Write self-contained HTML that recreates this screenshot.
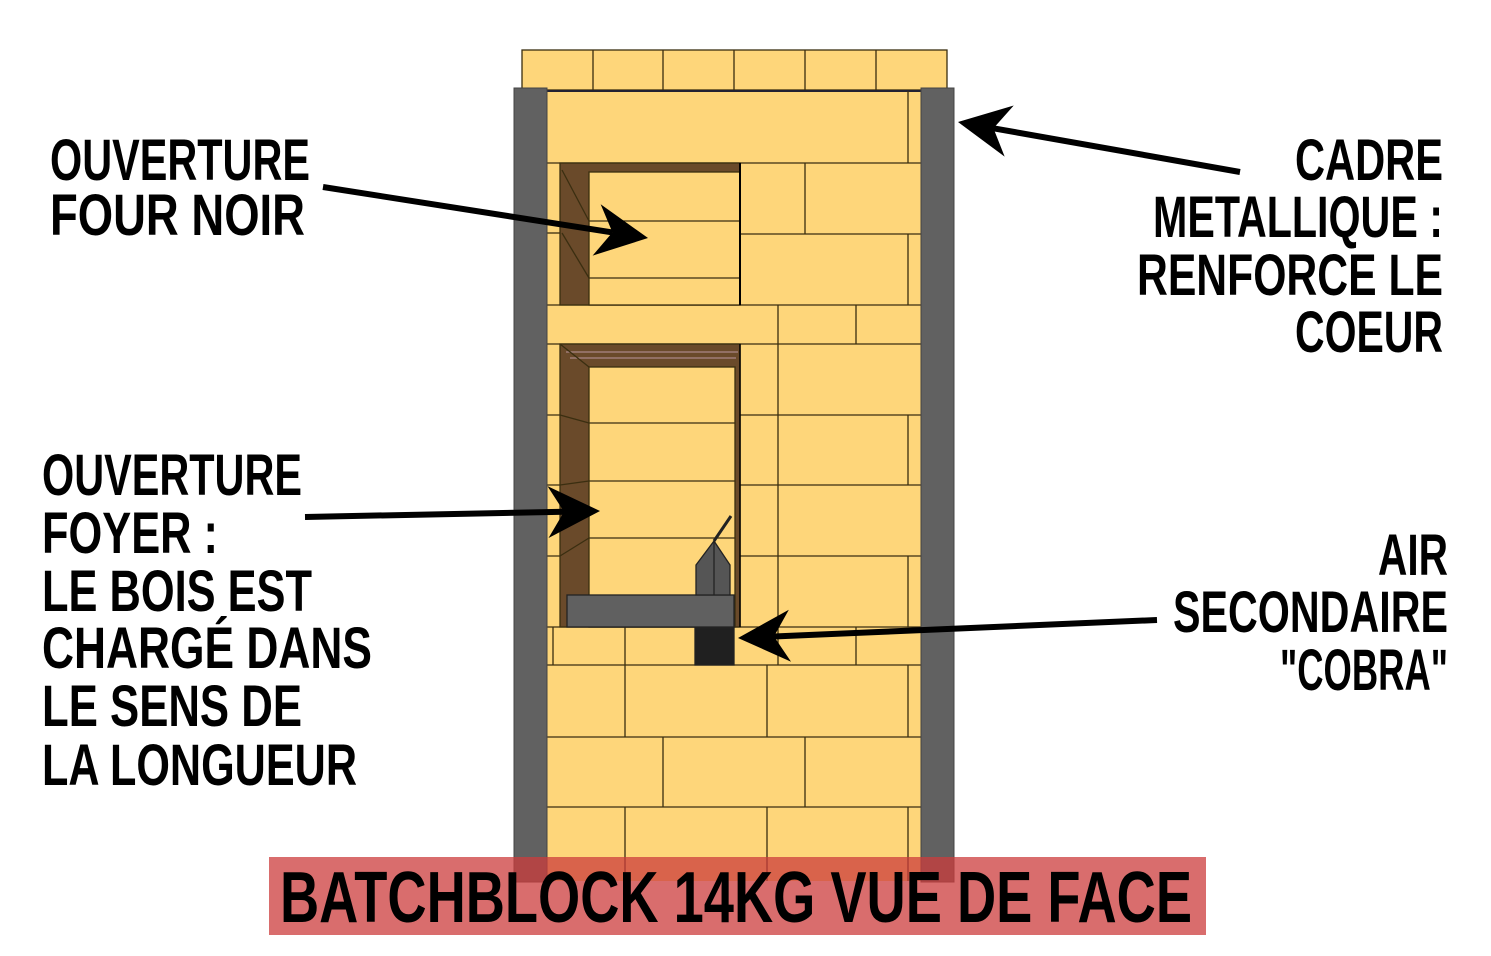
<!DOCTYPE html>
<html><head><meta charset="utf-8"><style>
html,body{margin:0;padding:0;background:#fff;}
svg{display:block}
text{font-family:"Liberation Sans","DejaVu Sans",sans-serif;font-weight:bold;fill:#000;}
</style></head><body>
<svg width="1491" height="956" viewBox="0 0 1491 956" xmlns="http://www.w3.org/2000/svg">
<g stroke="#3a2e10" stroke-width="1.3" fill="#fed67a">
  <g>
    <rect x="522" y="50" width="425" height="40"/>
    <line x1="593" y1="50" x2="593" y2="90"/><line x1="663" y1="50" x2="663" y2="90"/>
    <line x1="734" y1="50" x2="734" y2="90"/><line x1="805" y1="50" x2="805" y2="90"/>
    <line x1="876" y1="50" x2="876" y2="90"/>
  </g>
  <g>
    <rect x="547" y="91" width="374" height="790" stroke="none"/>
    <line x1="547" y1="91" x2="921" y2="91" stroke="#223" stroke-width="2"/>
    <line x1="547" y1="163" x2="921" y2="163"/>
    <line x1="908" y1="91" x2="908" y2="163"/>
    <line x1="740" y1="234" x2="921" y2="234"/>
    <line x1="805" y1="163" x2="805" y2="234"/>
    <line x1="908" y1="234" x2="908" y2="305"/>
    <line x1="547" y1="233" x2="560" y2="233"/>
    <line x1="547" y1="305" x2="921" y2="305"/>
    <line x1="547" y1="344" x2="921" y2="344"/>
    <line x1="778" y1="305" x2="778" y2="627"/>
    <line x1="856" y1="305" x2="856" y2="344"/>
    <line x1="547" y1="415" x2="921" y2="415"/>
    <line x1="547" y1="485" x2="921" y2="485"/>
    <line x1="547" y1="556" x2="921" y2="556"/>
    <line x1="908" y1="415" x2="908" y2="485"/>
    <line x1="908" y1="556" x2="908" y2="627"/>
    <line x1="547" y1="627" x2="921" y2="627"/>
    <line x1="553" y1="627" x2="553" y2="665"/>
    <line x1="625" y1="627" x2="625" y2="665"/>
    <line x1="778" y1="627" x2="778" y2="665"/>
    <line x1="856" y1="627" x2="856" y2="665"/>
    <line x1="547" y1="665" x2="921" y2="665"/>
    <line x1="625" y1="665" x2="625" y2="737"/>
    <line x1="767" y1="665" x2="767" y2="737"/>
    <line x1="908" y1="665" x2="908" y2="737"/>
    <line x1="547" y1="737" x2="921" y2="737"/>
    <line x1="663" y1="737" x2="663" y2="807"/>
    <line x1="805" y1="737" x2="805" y2="807"/>
    <line x1="547" y1="807" x2="921" y2="807"/>
    <line x1="625" y1="807" x2="625" y2="881"/>
    <line x1="767" y1="807" x2="767" y2="881"/>
    <line x1="908" y1="807" x2="908" y2="881"/>
  </g>
  <g>
    <rect x="560" y="163" width="180" height="142" fill="#6a4a2a"/>
    <rect x="589" y="172" width="151" height="133"/>
    <line x1="589" y1="221" x2="740" y2="221"/>
    <line x1="589" y1="278" x2="740" y2="278"/>
    <line x1="562" y1="170" x2="589" y2="221"/>
    <line x1="562" y1="233" x2="589" y2="278"/>
    <line x1="740" y1="163" x2="740" y2="305" stroke="#000" stroke-width="2"/>
  </g>
  <g>
    <rect x="560" y="344" width="180" height="283" fill="#6a4a2a"/>
    <line x1="566" y1="352" x2="738" y2="352" stroke="#a88"/>
    <line x1="570" y1="358" x2="736" y2="358" stroke="#a88"/>
    <rect x="589" y="367" width="146" height="260"/>
    <line x1="589" y1="423" x2="735" y2="423"/>
    <line x1="589" y1="481" x2="735" y2="481"/>
    <line x1="589" y1="538" x2="735" y2="538"/>
    <line x1="560" y1="344" x2="589" y2="367"/>
    <line x1="560" y1="415" x2="589" y2="423"/>
    <line x1="560" y1="485" x2="589" y2="481"/>
    <line x1="560" y1="556" x2="589" y2="538"/>
    <line x1="740" y1="344" x2="740" y2="627" stroke="#000" stroke-width="1.5"/>
  </g>
</g>
<g stroke="#222" stroke-width="1.3">
  <rect x="567" y="595" width="167" height="32" fill="#606060"/>
  <polygon points="696,565 714,541 730,565 730,595 696,595" fill="#555"/>
  <line x1="714" y1="541" x2="714" y2="595"/>
  <line x1="714" y1="541" x2="731" y2="516" stroke-width="3"/>
  <rect x="695" y="628" width="39" height="37" fill="#202020"/>
</g>
<g fill="#616161" stroke="#444" stroke-width="1">
  <rect x="514" y="88" width="33" height="794"/>
  <rect x="921" y="88" width="33" height="794"/>
</g>
<rect x="269" y="857" width="937" height="78" fill="rgba(204,60,60,0.75)"/>
<text x="280" y="922" font-size="72" textLength="912" lengthAdjust="spacingAndGlyphs">BATCHBLOCK 14KG VUE DE FACE</text>

<g font-size="58">
  <text x="50" y="180" textLength="260" lengthAdjust="spacingAndGlyphs">OUVERTURE</text>
  <text x="50" y="235" textLength="255" lengthAdjust="spacingAndGlyphs">FOUR NOIR</text>
</g>
<g font-size="58">
  <text x="42" y="495" textLength="260" lengthAdjust="spacingAndGlyphs">OUVERTURE</text>
  <text x="42" y="553" textLength="176" lengthAdjust="spacingAndGlyphs">FOYER :</text>
  <text x="42" y="611" textLength="270" lengthAdjust="spacingAndGlyphs">LE BOIS EST</text>
  <text x="42" y="668" textLength="330" lengthAdjust="spacingAndGlyphs">CHARGÉ DANS</text>
  <text x="42" y="726" textLength="260" lengthAdjust="spacingAndGlyphs">LE SENS DE</text>
  <text x="42" y="785" textLength="315" lengthAdjust="spacingAndGlyphs">LA LONGUEUR</text>
</g>
<g font-size="58">
  <text x="1295" y="180" textLength="148" lengthAdjust="spacingAndGlyphs">CADRE</text>
  <text x="1153" y="237" textLength="290" lengthAdjust="spacingAndGlyphs">METALLIQUE :</text>
  <text x="1137" y="295" textLength="306" lengthAdjust="spacingAndGlyphs">RENFORCE LE</text>
  <text x="1295" y="352" textLength="148" lengthAdjust="spacingAndGlyphs">COEUR</text>
</g>
<g font-size="58">
  <text x="1378" y="575" textLength="70" lengthAdjust="spacingAndGlyphs">AIR</text>
  <text x="1173" y="632" textLength="275" lengthAdjust="spacingAndGlyphs">SECONDAIRE</text>
  <text x="1280" y="690" textLength="168" lengthAdjust="spacingAndGlyphs">"COBRA"</text>
</g>
<g id="arrows"></g>
<script>
const arrows = [
  ['arrow-four-noir', 323,187, 648,238],
  ['arrow-foyer', 305,517, 600,511],
  ['arrow-cadre', 1240,172, 958,122],
  ['arrow-cobra', 1157,620, 738,638]
];
const g = document.getElementById('arrows');
const NS = 'http://www.w3.org/2000/svg';
arrows.forEach(a => {
  const [name,x1,y1,x2,y2] = a;
  const dx=x2-x1, dy=y2-y1, L=Math.hypot(dx,dy), ux=dx/L, uy=dy/L, px=-uy, py=ux;
  const grp = document.createElementNS(NS,'g');
  
  
  const hl=52, hw=26, notch=36;
  const line = document.createElementNS(NS,'line');
  line.setAttribute('x1',x1); line.setAttribute('y1',y1);
  line.setAttribute('x2',x2-ux*notch); line.setAttribute('y2',y2-uy*notch);
  line.setAttribute('stroke','#000'); line.setAttribute('stroke-width','6');
  grp.appendChild(line);
  const bx=x2-ux*hl, by=y2-uy*hl;
  const pts=[[x2,y2],[bx+px*hw,by+py*hw],[x2-ux*notch,y2-uy*notch],[bx-px*hw,by-py*hw]];
  const poly=document.createElementNS(NS,'polygon');
  poly.setAttribute('points',pts.map(p=>p.join(',')).join(' '));
  poly.setAttribute('fill','#000');
  grp.appendChild(poly);
  g.appendChild(grp);
});
</script>
</svg>
</body></html>
